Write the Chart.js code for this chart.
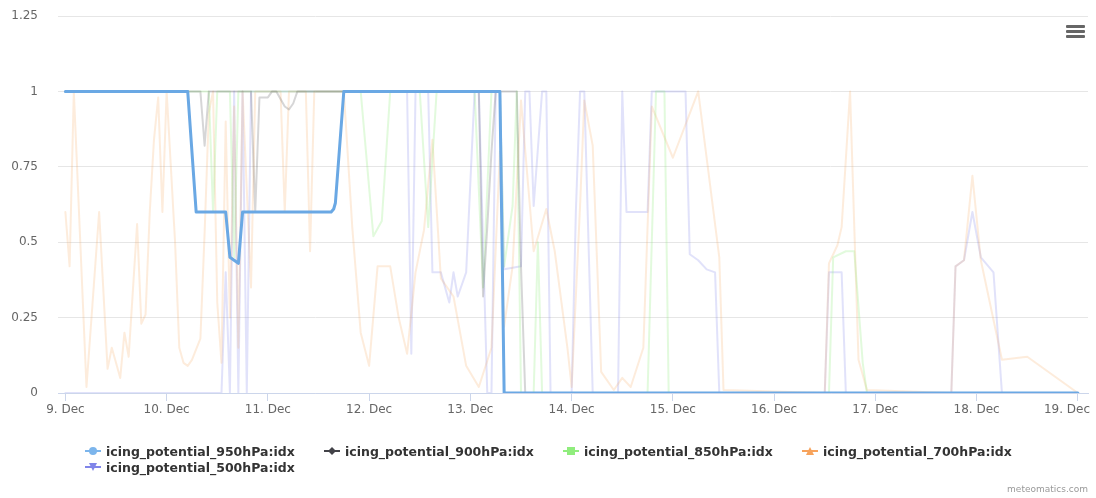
<!DOCTYPE html>
<html>
<head>
<meta charset="utf-8">
<script src="https://cdn.jsdelivr.net/npm/chart.js@4/dist/chart.umd.min.js"></script>
<style>
  html, body { margin: 0; padding: 0; background: #ffffff; }
  #wrap { position: relative; width: 1096px; height: 498px; overflow: hidden; font-family: "DejaVu Sans", sans-serif; }
  canvas { position: absolute; left: 0; top: 0; }
  #menu { position: absolute; left: 1066px; top: 25px; width: 19px; height: 14px; }
  #menu div { position: absolute; left: 0; width: 19px; height: 3px; background: #666; border-radius: 1px; }
  #legend { position: absolute; left: 85px; top: 443px; width: 960px; display: flex; flex-wrap: wrap; }
  .item { width: 239px; height: 16px; display: flex; align-items: center; font-size: 12.5px; font-weight: bold; color: #333; white-space: nowrap; }
  .item svg { margin-right: 5px; flex: none; }
  #credit { position: absolute; right: 8px; top: 484px; font-size: 9px; color: #999; font-family: "DejaVu Sans", sans-serif; }
</style>
</head>
<body>
<div id="wrap">
  <canvas id="c" width="1096" height="498"></canvas>
  <div id="menu"><div style="top:0"></div><div style="top:5px"></div><div style="top:10px"></div></div>
  <div id="legend"></div>
  <div id="credit">meteomatics.com</div>
</div>
<script>
// ---- data (x = hours since 9 Dec 00:00) ----
const dayLabels = ['9. Dec','10. Dec','11. Dec','12. Dec','13. Dec','14. Dec','15. Dec','16. Dec','17. Dec','18. Dec','19. Dec'];
const dayHours = [0,24,48,72,96,120,144,168,192,216,240];
const yTicks = [0,0.25,0.5,0.75,1,1.25];
const seriesNames = ['icing_potential_950hPa:idx','icing_potential_900hPa:idx','icing_potential_850hPa:idx','icing_potential_700hPa:idx','icing_potential_500hPa:idx'];

const ip950 = [[0,1],[29,1],[31,0.6],[38,0.6],[39,0.45],[41,0.43],[42,0.6],[63,0.6],[63.6,0.61],[64,0.63],[66,1],[103,1],[104,0],[240,0]];

const ip900 = [[0,1],[32,1],[33,0.82],[34,1],[44,1],[45,0.6],[46,0.98],[48,0.98],[49,1],[50,1],[52,0.95],[53,0.94],[54,0.96],[55,1],[98,1],[99,0.32],[100,0.55],[101,0.8],[102,1],[107,1],[108,0.42],[109,0],[240,0]];

const ip850 = [[0,1],[34,1],[35,0.6],[36,1],[39,1],[40,0.45],[41,1],[70,1],[73,0.52],[75,0.57],[77,1],[84,1],[86,0.55],[88,1],[97,1],[99,0.35],[101,1],[103,1],[104,0.42],[106,0.62],[107,1],[108,0],[111,0],[112,0.5],[113,0],[138,0],[140,1],[142,1],[143,0],[181,0],[182,0.45],[185,0.47],[187,0.47],[189,0.1],[190,0],[240,0]];

const ip700 = [[0,0.6],[1,0.42],[2,1],[5,0.02],[8,0.6],[10,0.08],[11,0.15],[12,0.1],[13,0.05],[14,0.2],[15,0.12],[17,0.56],[18,0.23],[19,0.26],[20,0.6],[21,0.84],[22,0.98],[23,0.6],[24,1],[26,0.5],[27,0.15],[28,0.1],[29,0.09],[30,0.11],[32,0.18],[33,0.53],[34,0.93],[35,1],[36,0.3],[37,0.1],[38,0.9],[39,0.25],[40,0.95],[41,0.15],[42,1],[44,0.35],[45,1],[51,1],[52,0.6],[53,1],[57,1],[58,0.47],[59,1],[66,1],[68,0.55],[70,0.2],[72,0.09],[74,0.42],[77,0.42],[79,0.25],[81,0.13],[83,0.4],[85,0.54],[87,0.84],[89,0.38],[92,0.32],[95,0.09],[98,0.02],[101,0.15],[103,0.8],[104,0.22],[106,0.42],[108,0.97],[111,0.47],[114,0.61],[116,0.47],[119,0.15],[120,0.02],[122,0.62],[123,0.97],[125,0.82],[127,0.07],[130,0.01],[132,0.05],[134,0.02],[137,0.15],[139,0.95],[144,0.78],[150,1],[155,0.45],[156,0.01],[180,0],[181,0.43],[183,0.49],[184,0.55],[186,1],[187,0.55],[188,0.11],[190,0.01],[210,0],[211,0.42],[213,0.44],[215,0.72],[217,0.44],[222,0.11],[228,0.12],[240,0]];

const ip500 = [[0,0],[37,0],[38,0.4],[39,0],[40,1],[41,0],[42,1],[43,0],[44,1],[81,1],[82,0.13],[83,1],[86,1],[87,0.4],[89,0.4],[91,0.3],[92,0.4],[93,0.32],[95,0.4],[97,1],[98,1],[100,0],[101,0],[102,1],[103,1],[104,0.41],[108,0.42],[109,1],[110,1],[111,0.62],[113,1],[114,1],[115,0],[120,0],[121,0.6],[122,1],[123,1],[125,0],[131,0],[132,1],[133,0.6],[138,0.6],[139,1],[147,1],[148,0.46],[150,0.44],[152,0.41],[154,0.4],[155,0],[180,0],[181,0.4],[184,0.4],[185,0],[210,0],[211,0.42],[213,0.44],[215,0.6],[217,0.45],[220,0.4],[222,0],[240,0]];

const seriesData = [ip950, ip900, ip850, ip700, ip500];
const lineColors = ['#6aa8e4','rgba(67,67,72,0.22)','rgba(144,237,125,0.26)','rgba(247,163,92,0.21)','rgba(128,133,233,0.24)'];
const legendColors = ['#7cb5ec','#434348','#90ed7d','#f7a35c','#8085e9'];
const legendMarkers = ['circle','diamond','square','triangle','triangle-down'];
const lineWidths = [3,2,2,2,2];

const datasets = seriesData.map((s, i) => ({
  label: seriesNames[i],
  data: s.map(([x, y]) => ({ x, y })),
  borderColor: lineColors[i],
  backgroundColor: lineColors[i],
  borderWidth: lineWidths[i],
  pointRadius: 0,
  pointHoverRadius: 0,
  fill: false,
  tension: 0,
  borderJoinStyle: 'round',
  borderCapStyle: 'round'
}));

// shift the last x label inward so it fits, as in the reference
const lastLabelFit = {
  id: 'lastLabelFit',
  beforeDraw(chart) {
    const sc = chart.scales.x;
    const items = sc.getLabelItems(chart.chartArea);
    const last = items[items.length - 1];
    if (last && last.options) {
      last.options.textAlign = 'right';
      last.options.translation = [chart.width - 6, last.options.translation[1]];
    }
  }
};

new Chart(document.getElementById('c'), {
  type: 'line',
  data: { datasets },
  plugins: [lastLabelFit],
  options: {
    responsive: false,
    animation: false,
    devicePixelRatio: 1,
    events: [],
    layout: { padding: { top: 16, left: 0, right: 8, bottom: 80 } },
    plugins: { legend: { display: false }, tooltip: { enabled: false } },
    scales: {
      x: {
        type: 'linear',
        min: -1.75,
        max: 242.4,
        afterBuildTicks: (s) => { s.ticks = dayHours.map(v => ({ value: v })); },
        afterFit: (s) => { s.height = 25; s.paddingLeft = 0; s.paddingRight = 0; },
        ticks: {
          callback: (v) => dayLabels[dayHours.indexOf(v)],
          color: '#666',
          font: { family: 'DejaVu Sans', size: 12 },
          padding: 2,
          maxRotation: 0,
          autoSkip: false
        },
        grid: { drawOnChartArea: false, drawTicks: true, tickLength: 8, color: '#ccd6eb' },
        border: { display: true, color: '#ccd6eb' }
      },
      y: {
        min: 0,
        max: 1.25,
        afterBuildTicks: (s) => { s.ticks = yTicks.map(v => ({ value: v })); },
        afterFit: (s) => { s.width = 58; s.paddingTop = 0; s.paddingBottom = 0; },
        ticks: {
          callback: (v) => String(v),
          color: '#666',
          font: { family: 'DejaVu Sans', size: 12 },
          padding: 20
        },
        grid: { color: '#e6e6e6', drawTicks: false },
        border: { display: false }
      }
    }
  }
});

// legend (HTML)
function markerSvg(kind, color) {
  let shape = '';
  if (kind === 'circle') shape = `<circle cx="8" cy="8" r="4" fill="${color}"/>`;
  else if (kind === 'diamond') shape = `<polygon points="8,4 12,8 8,12 4,8" fill="${color}"/>`;
  else if (kind === 'square') shape = `<rect x="4" y="4" width="8" height="8" fill="${color}"/>`;
  else if (kind === 'triangle') shape = `<polygon points="8,4 12,12 4,12" fill="${color}"/>`;
  else shape = `<polygon points="4,4 12,4 8,12" fill="${color}"/>`;
  return `<svg width="16" height="16" viewBox="0 0 16 16"><line x1="0" y1="8" x2="16" y2="8" stroke="${color}" stroke-width="2"/>${shape}</svg>`;
}
const leg = document.getElementById('legend');
seriesNames.forEach((n, i) => {
  const d = document.createElement('div');
  d.className = 'item';
  d.innerHTML = markerSvg(legendMarkers[i], legendColors[i]) + '<span>' + n + '</span>';
  leg.appendChild(d);
});
</script>
</body>
</html>
